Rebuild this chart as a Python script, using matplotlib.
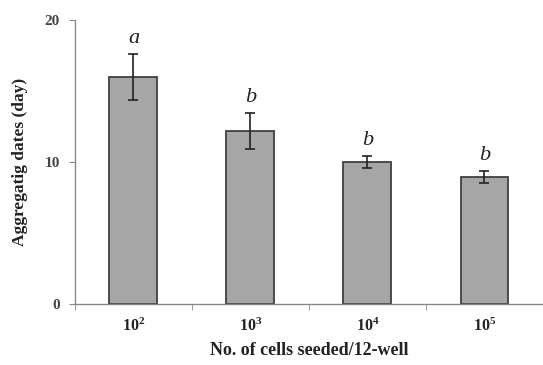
import matplotlib
matplotlib.use("Agg")
import matplotlib.pyplot as plt
import numpy as np

categories = ["2", "3", "4", "5"]
values = [16.0, 12.2, 10.0, 8.95]
errors = [1.6, 1.25, 0.4, 0.4]
letters = ["a", "b", "b", "b"]
yticks = [0, 10, 20]

plt.rcParams['mathtext.fontset'] = 'custom'
plt.rcParams['mathtext.bf'] = 'Liberation Serif:bold'
plt.rcParams['mathtext.rm'] = 'Liberation Serif:bold'

fig = plt.figure(figsize=(5.43, 3.65), dpi=100)
ax = fig.add_axes([0.138, 0.167, 0.862, 0.778])

x = np.arange(len(categories))
ax.bar(x, values, width=0.41, color="#a6a6a6", edgecolor="#404040", linewidth=1.3, zorder=2)
ax.errorbar(x, values, yerr=errors, fmt="none", ecolor="#222222", elinewidth=1.2,
            capsize=3.5, capthick=1.2, zorder=3)
for xi, v, e, l in zip(x, values, errors, letters):
    ax.text(xi, v + e + 0.45, l, ha="center", va="bottom", fontsize=16,
            family="Liberation Serif", style="italic", color="#222222")

ax.set_xlim(-0.5, len(categories) - 0.5)
ax.set_ylim(0, 20)
ax.set_yticks(yticks)
ax.set_yticklabels([str(t) for t in yticks], family="Liberation Serif", fontsize=11,
                   fontweight="bold", color="#444444")
ax.set_xticks(x)
ax.set_xticklabels([r"$\mathbf{10^{%s}}$" % c for c in categories], fontsize=11.5, color="#222222")
ax.set_xticks(np.arange(len(categories) + 1) - 0.5, minor=True)
ax.tick_params(axis="x", which="major", length=0, pad=9)
ax.tick_params(axis="x", which="minor", length=4, color="#888888", direction="out")
ax.tick_params(axis="y", length=4, color="#888888", direction="out", pad=7)

for s in ["top", "right"]:
    ax.spines[s].set_visible(False)
for s in ["left", "bottom"]:
    ax.spines[s].set_color("#888888")
    ax.spines[s].set_linewidth(1.0)

ax.set_xlabel("No. of cells seeded/12-well", family="Liberation Serif", fontweight="bold",
              fontsize=13, color="#222222", labelpad=6)
ax.set_ylabel("Aggregatig dates (day)", family="Liberation Serif", fontweight="bold",
              fontsize=12.5, color="#222222", labelpad=12)

fig.savefig("out.png", dpi=100)
